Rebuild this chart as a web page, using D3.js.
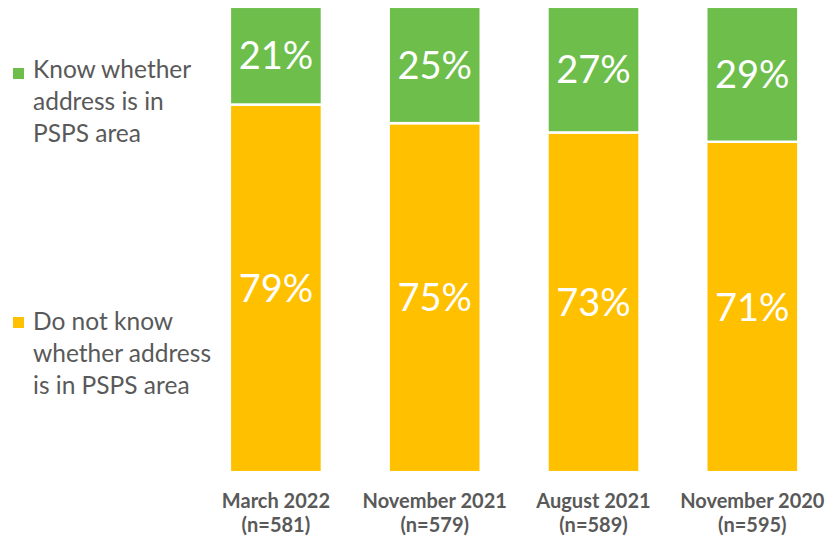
<!DOCTYPE html>
<html>
<head>
<meta charset="utf-8">
<script src="https://cdn.jsdelivr.net/npm/d3@7"></script>
<style>
  html, body { margin: 0; padding: 0; background: #fff; }
  svg { display: block; }
</style>
</head>
<body>
<svg id="chart" width="828" height="541"></svg>
<script>
const categories = ["March 2022", "November 2021", "August 2021", "November 2020"];
const sampleSizes = ["(n=581)", "(n=579)", "(n=589)", "(n=595)"];
const knowValues = [21, 25, 27, 29];
const dontKnowValues = [79, 75, 73, 71];
const seriesNames = [
  ["Know whether", "address is in", "PSPS area"],
  ["Do not know", "whether address", "is in PSPS area"]
];
const colors = { know: "#6DBE4B", dont: "#FFC000" };

const svg = d3.select("#chart");
const font = "Lato, 'Open Sans', sans-serif";

const x = d3.scaleBand()
  .domain(categories)
  .range([196.5, 831.7])
  .paddingInner(0.42)
  .paddingOuter(0.21);

const y = d3.scaleLinear().domain([0, 100]).range([472.2, 6.8]);

const rows = categories.map((c, i) => ({ cat: c, dont: dontKnowValues[i], know: knowValues[i] }));
const stack = d3.stack().keys(["dont", "know"]);
const layers = stack(rows);

const g = svg.append("g");
layers.forEach(layer => {
  const key = layer.key;
  g.selectAll(null)
    .data(layer)
    .join("rect")
    .attr("x", d => x(d.data.cat))
    .attr("width", x.bandwidth())
    .attr("y", d => y(d[1]))
    .attr("height", d => y(d[0]) - y(d[1]))
    .attr("fill", colors[key])
    .attr("stroke", "#fff")
    .attr("stroke-width", 2.5);

  g.selectAll(null)
    .data(layer)
    .join("text")
    .attr("x", d => x(d.data.cat) + x.bandwidth() / 2)
    .attr("y", d => (y(d[0]) + y(d[1])) / 2)
    .attr("dy", "0.36em")
    .attr("text-anchor", "middle")
    .attr("fill", "#fff")
    .style("font-family", font)
    .style("font-size", "38px")
    .text(d => (d[1] - d[0]) + "%");
});

// category axis labels
const xAxis = d3.axisBottom(x).tickSize(0).tickFormat("");
const axisG = svg.append("g").attr("transform", "translate(0,472)").call(xAxis);
axisG.select(".domain").remove();
axisG.selectAll(".tick").each(function(d, i) {
  const t = d3.select(this).append("text")
    .attr("text-anchor", "middle")
    .attr("fill", "#595959")
    .style("font-family", font)
    .style("font-size", "20px")
    .style("font-weight", "bold");
  t.append("tspan").attr("x", 0).attr("y", 36).text(categories[i]);
  t.append("tspan").attr("x", 0).attr("y", 60).text(sampleSizes[i]);
});

// legend
const legendItems = [
  { lines: seriesNames[0], color: colors.know, y0: 78, sq: 68 },
  { lines: seriesNames[1], color: colors.dont, y0: 330, sq: 317 }
];
legendItems.forEach(item => {
  svg.append("rect")
    .attr("x", 13).attr("y", item.sq)
    .attr("width", 11).attr("height", 11)
    .attr("fill", item.color);
  const t = svg.append("text")
    .attr("fill", "#595959")
    .style("font-family", font)
    .style("font-size", "24.5px");
  item.lines.forEach((l, j) => {
    t.append("tspan").attr("x", 33).attr("y", item.y0 + j * 32).text(l);
  });
});
</script>
</body>
</html>
